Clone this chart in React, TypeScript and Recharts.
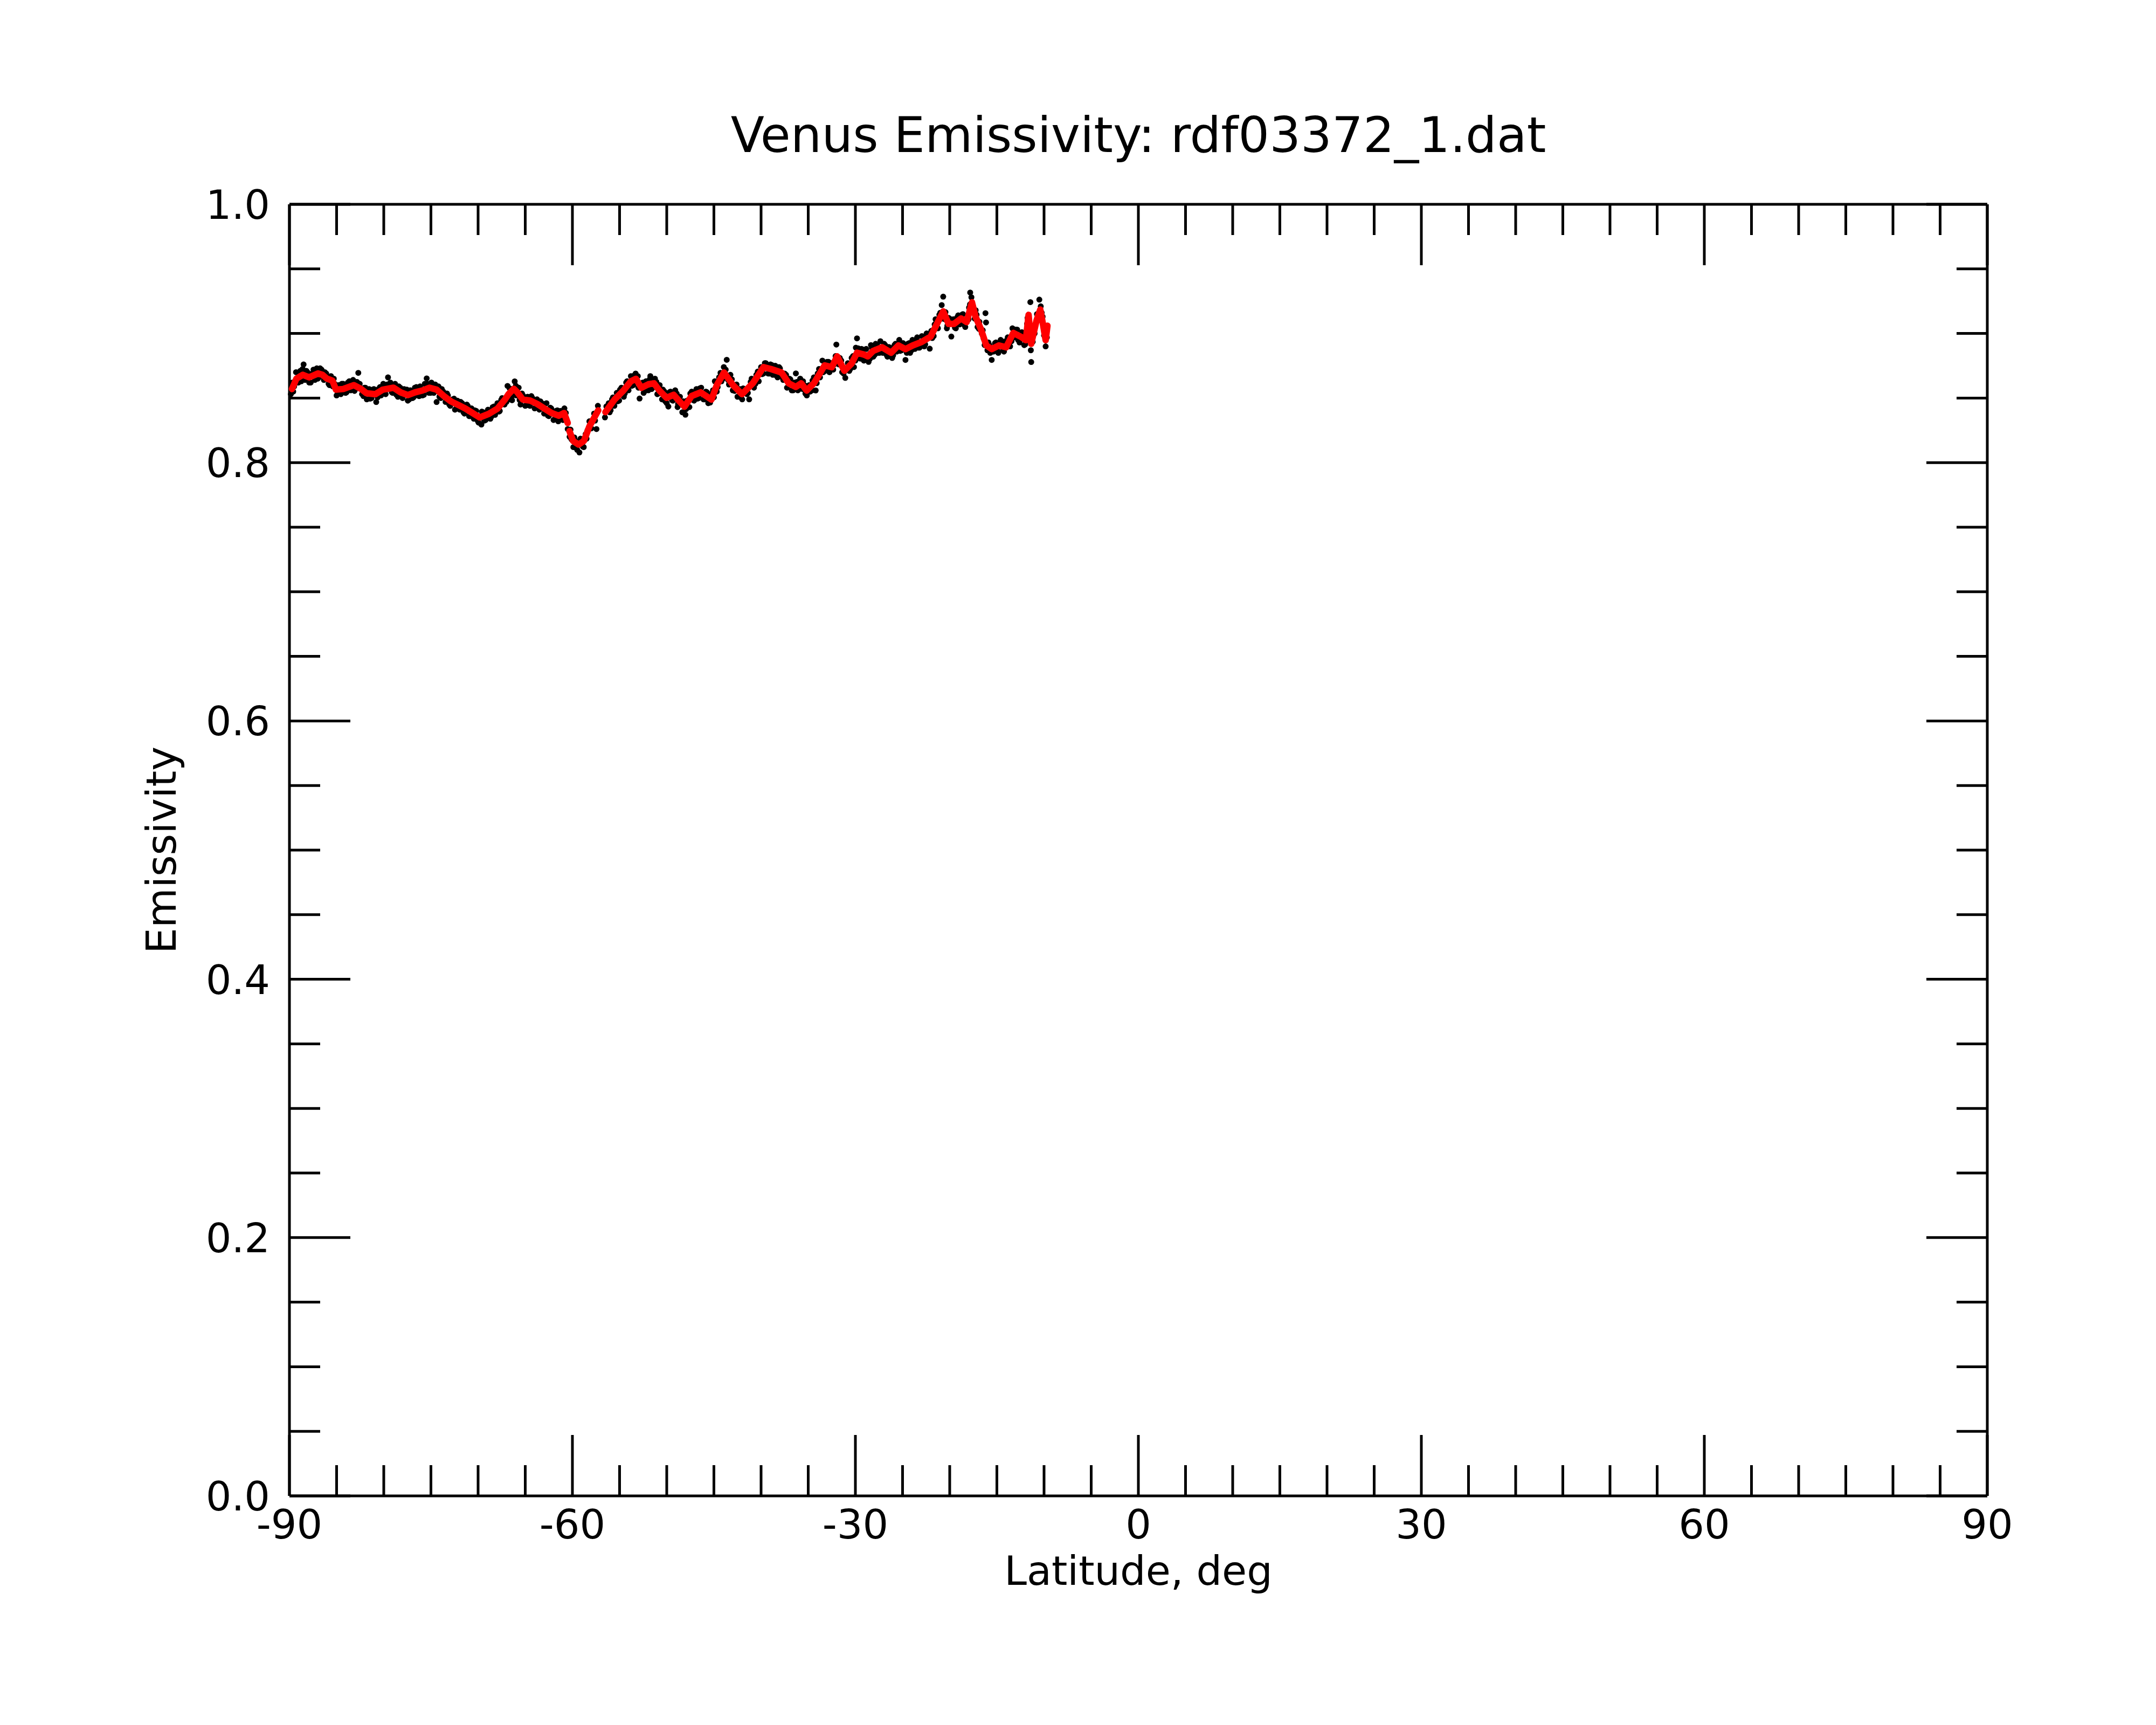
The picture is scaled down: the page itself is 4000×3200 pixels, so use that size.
import React from "react";
import { ScatterChart, Scatter, XAxis, YAxis } from "recharts";

// axis ticks (majors every 30 deg / 0.2, minors every 5 deg / 0.05)
const latTicks = [
  -90, -85, -80, -75, -70, -65, -60, -55, -50, -45, -40, -35, -30, -25, -20,
  -15, -10, -5, 0, 5, 10, 15, 20, 25, 30, 35, 40, 45, 50, 55, 60, 65, 70, 75,
  80, 85, 90,
];
const emTicks = [
  0, 0.05, 0.1, 0.15, 0.2, 0.25, 0.3, 0.35, 0.4, 0.45, 0.5, 0.55, 0.6, 0.65,
  0.7, 0.75, 0.8, 0.85, 0.9, 0.95, 1.0,
];

// raw emissivity samples [latitude, emissivity]
const rawPoints: [number, number][] = [
  [-89.85, 0.853], [-89.7, 0.862], [-89.5, 0.859], [-89.3, 0.87], [-89.05, 0.862],
  [-88.85, 0.871], [-88.6, 0.8725], [-88.5, 0.876], [-88.35, 0.864], [-88.1, 0.87],
  [-87.9, 0.862], [-87.6, 0.869], [-87.3, 0.864], [-87.1, 0.873], [-86.9, 0.866],
  [-86.6, 0.872], [-86.35, 0.864], [-86.1, 0.869], [-85.85, 0.861], [-85.6, 0.867],
  [-85.4, 0.859], [-85.2, 0.861], [-85.0, 0.852], [-84.8, 0.86], [-84.55, 0.853],
  [-84.3, 0.861], [-84.05, 0.854], [-83.8, 0.862], [-83.5, 0.856], [-83.25, 0.864],
  [-83.0, 0.857], [-82.7, 0.8695], [-82.55, 0.861], [-82.3, 0.853], [-82.05, 0.858],
  [-81.8, 0.849], [-81.55, 0.857], [-81.3, 0.85], [-81.05, 0.857], [-80.8, 0.8469],
  [-80.55, 0.857], [-80.3, 0.852], [-80.05, 0.861], [-79.8, 0.853], [-79.55, 0.866],
  [-79.3, 0.862], [-79.05, 0.854], [-78.8, 0.861], [-78.5, 0.851], [-78.25, 0.858],
  [-78.0, 0.85], [-77.7, 0.856], [-77.45, 0.848], [-77.2, 0.856], [-76.95, 0.85],
  [-76.7, 0.858], [-76.4, 0.852], [-76.15, 0.859], [-75.9, 0.852], [-75.65, 0.861],
  [-75.45, 0.8652], [-75.2, 0.854], [-74.95, 0.862], [-74.7, 0.854], [-74.4, 0.8469],
  [-74.2, 0.859], [-73.95, 0.85], [-73.7, 0.855], [-73.45, 0.847], [-73.2, 0.852],
  [-72.95, 0.844], [-72.7, 0.849], [-72.45, 0.841], [-72.2, 0.848], [-71.95, 0.841],
  [-71.7, 0.846], [-71.45, 0.838], [-71.2, 0.845], [-70.95, 0.836], [-70.7, 0.842],
  [-70.45, 0.834], [-70.2, 0.84], [-69.95, 0.831], [-69.65, 0.8295], [-69.45, 0.839],
  [-69.2, 0.833], [-68.95, 0.841], [-68.7, 0.834], [-68.45, 0.843], [-68.2, 0.837],
  [-67.95, 0.846], [-67.7, 0.84], [-67.45, 0.85], [-67.2, 0.845], [-66.88, 0.8594],
  [-66.6, 0.849], [-66.4, 0.8483], [-66.12, 0.8629], [-65.95, 0.852], [-65.7, 0.858],
  [-65.5, 0.845], [-65.25, 0.852], [-65.0, 0.844], [-64.75, 0.851], [-64.5, 0.844],
  [-64.25, 0.85], [-64.0, 0.842], [-63.75, 0.849], [-63.5, 0.841], [-63.25, 0.846],
  [-63.0, 0.838], [-62.75, 0.846], [-62.5, 0.836], [-62.25, 0.842], [-62.0, 0.833],
  [-61.75, 0.84], [-61.5, 0.832], [-61.25, 0.84], [-61.0, 0.833], [-60.85, 0.842],
  [-60.65, 0.834], [-60.5, 0.826],
  [-60.3, 0.82], [-60.1, 0.818], [-59.9, 0.812], [-59.7, 0.817], [-59.5, 0.81],
  [-59.26, 0.8079], [-59.0, 0.818], [-58.8, 0.812], [-58.6, 0.822], [-58.4, 0.825],
  [-58.2, 0.832], [-57.95, 0.831], [-57.7, 0.838], [-57.45, 0.826], [-57.3, 0.844],
  [-56.55, 0.835], [-56.3, 0.844], [-56.05, 0.839], [-55.8, 0.849], [-55.55, 0.844],
  [-55.3, 0.854], [-55.05, 0.848], [-54.8, 0.858], [-54.55, 0.851], [-54.3, 0.862],
  [-54.05, 0.856], [-53.8, 0.867], [-53.55, 0.86], [-53.3, 0.869], [-53.07, 0.867],
  [-52.88, 0.8496], [-52.7, 0.861], [-52.45, 0.854], [-52.2, 0.863], [-51.95, 0.856],
  [-51.74, 0.867], [-51.5, 0.858], [-51.25, 0.865], [-51.0, 0.853], [-50.75, 0.86],
  [-50.5, 0.849], [-50.25, 0.855], [-50.0, 0.846], [-49.83, 0.8434], [-49.6, 0.855],
  [-49.35, 0.848], [-49.1, 0.856], [-48.85, 0.843], [-48.6, 0.851], [-48.35, 0.839],
  [-48.02, 0.8371], [-47.85, 0.848], [-47.6, 0.843], [-47.35, 0.855], [-47.1, 0.848],
  [-46.85, 0.857], [-46.6, 0.85], [-46.35, 0.858], [-46.1, 0.849], [-45.85, 0.855],
  [-45.6, 0.846], [-45.35, 0.853], [-45.1, 0.856], [-44.9, 0.863], [-44.7, 0.855],
  [-44.45, 0.866], [-44.2, 0.863], [-43.95, 0.874], [-43.64, 0.8796], [-43.5, 0.864],
  [-43.25, 0.868], [-43.0, 0.856], [-42.75, 0.86], [-42.5, 0.851], [-42.25, 0.857],
  [-42.0, 0.849], [-41.75, 0.854], [-41.5, 0.853], [-41.26, 0.849], [-41.0, 0.865],
  [-40.75, 0.858], [-40.5, 0.868], [-40.25, 0.863], [-40.0, 0.874], [-39.75, 0.869],
  [-39.5, 0.877], [-39.25, 0.869], [-39.0, 0.876], [-38.75, 0.868], [-38.5, 0.875],
  [-38.25, 0.866], [-38.0, 0.873], [-37.75, 0.866], [-37.5, 0.869], [-37.25, 0.858],
  [-37.0, 0.865], [-36.75, 0.856], [-36.5, 0.862], [-36.31, 0.8691], [-36.1, 0.856],
  [-35.85, 0.865], [-35.6, 0.857], [-35.4, 0.86], [-35.15, 0.852], [-34.9, 0.86],
  [-34.6, 0.856], [-34.4, 0.866], [-34.21, 0.8559], [-34.0, 0.869], [-33.75, 0.866],
  [-33.5, 0.879], [-33.25, 0.871], [-33.0, 0.878], [-32.75, 0.87], [-32.5, 0.877],
  [-32.25, 0.876], [-32.02, 0.8914], [-31.9, 0.878], [-31.65, 0.881], [-31.4, 0.87],
  [-31.07, 0.8656], [-30.9, 0.873], [-30.65, 0.871], [-30.4, 0.881], [-30.15, 0.874],
  [-29.95, 0.889], [-29.83, 0.8962], [-29.6, 0.881], [-29.35, 0.888], [-29.1, 0.879],
  [-28.85, 0.888], [-28.6, 0.878], [-28.35, 0.891], [-28.1, 0.882], [-27.85, 0.892],
  [-27.6, 0.885], [-27.35, 0.894], [-27.1, 0.885], [-26.85, 0.891], [-26.6, 0.882],
  [-26.35, 0.889], [-26.1, 0.881], [-25.85, 0.891], [-25.6, 0.886], [-25.35, 0.895],
  [-25.1, 0.887], [-24.85, 0.891], [-24.69, 0.8795], [-24.45, 0.892], [-24.2, 0.885],
  [-23.95, 0.895], [-23.7, 0.888], [-23.45, 0.897], [-23.2, 0.889], [-22.95, 0.898],
  [-22.7, 0.89], [-22.45, 0.9], [-22.12, 0.8882], [-21.95, 0.902], [-21.7, 0.898],
  [-21.5, 0.911], [-21.25, 0.904], [-21.0, 0.916], [-20.85, 0.922], [-20.69, 0.9285],
  [-20.5, 0.911], [-20.3, 0.904], [-20.1, 0.912], [-19.83, 0.8976], [-19.6, 0.911],
  [-19.35, 0.904], [-19.1, 0.914], [-18.85, 0.908], [-18.6, 0.915], [-18.35, 0.905],
  [-18.1, 0.912], [-17.95, 0.92], [-17.83, 0.9317], [-17.7, 0.928], [-17.45, 0.918],
  [-17.25, 0.918], [-17.05, 0.905], [-16.85, 0.909], [-16.6, 0.9], [-16.4, 0.896],
  [-16.21, 0.9157], [-16.15, 0.9085], [-16.0, 0.887], [-15.8, 0.891], [-15.55, 0.8795],
  [-15.35, 0.886], [-15.1, 0.893], [-14.85, 0.885], [-14.6, 0.895], [-14.35, 0.887],
  [-14.1, 0.894], [-13.85, 0.897], [-13.6, 0.89], [-13.35, 0.904], [-13.1, 0.897],
  [-12.85, 0.903], [-12.6, 0.893], [-12.35, 0.901], [-12.1, 0.891], [-11.9, 0.9],
  [-11.75, 0.912], [-11.45, 0.9243], [-11.4, 0.887], [-11.36, 0.8779], [-11.15, 0.903],
  [-10.95, 0.907], [-10.75, 0.915], [-10.5, 0.9262], [-10.35, 0.921], [-10.15, 0.913],
  [-9.95, 0.903], [-9.83, 0.89], [-9.7, 0.897],
];

// more raw samples, between the ones above
const rawPointsB: [number, number][] = [
  [-89.6, 0.855], [-89.15, 0.862], [-88.75, 0.863], [-88.2, 0.871], [-87.75, 0.862],
  [-87.45, 0.872], [-87.0, 0.865], [-86.75, 0.873], [-86.25, 0.87], [-85.75, 0.86],
  [-85.3, 0.865], [-84.9, 0.853], [-84.45, 0.861], [-83.95, 0.8545], [-83.65, 0.863],
  [-83.1, 0.8555], [-82.85, 0.8625], [-82.15, 0.8515], [-81.95, 0.858], [-81.45, 0.8495],
  [-81.15, 0.8565], [-80.65, 0.8505], [-80.4, 0.8585], [-79.95, 0.8535], [-79.65, 0.8605],
  [-79.15, 0.8545], [-78.65, 0.8525], [-78.4, 0.859], [-77.85, 0.857], [-77.55, 0.8565],
  [-77.3, 0.849], [-76.85, 0.8505], [-76.55, 0.8585], [-76.25, 0.8515], [-75.75, 0.8525],
  [-75.35, 0.861], [-75.05, 0.854], [-74.55, 0.8605], [-74.1, 0.851], [-73.85, 0.857],
  [-73.3, 0.8535], [-73.05, 0.845], [-72.55, 0.8495], [-72.3, 0.842], [-71.85, 0.847],
  [-71.55, 0.839], [-71.1, 0.844], [-70.8, 0.836], [-70.35, 0.8405], [-70.05, 0.8325],
  [-69.6, 0.8395], [-69.35, 0.8325], [-68.6, 0.8355], [-68.3, 0.8435], [-67.8, 0.8395],
  [-67.55, 0.8485], [-67.0, 0.847], [-66.65, 0.8575], [-66.35, 0.852], [-66.0, 0.8595],
  [-65.6, 0.8485], [-65.35, 0.8535], [-64.85, 0.8445], [-64.35, 0.8515], [-63.9, 0.8425],
  [-63.4, 0.8475], [-63.1, 0.8455], [-62.6, 0.8365], [-62.35, 0.8425], [-61.85, 0.834],
  [-61.6, 0.8405], [-61.1, 0.8345], [-60.7, 0.8385],
  [-60.2, 0.8255], [-59.8, 0.8195], [-59.6, 0.8115], [-59.15, 0.8185], [-58.9, 0.8125],
  [-58.5, 0.8185], [-58.0, 0.8265], [-57.6, 0.8325],
  [-56.4, 0.8435], [-56.15, 0.846], [-55.95, 0.8405], [-55.7, 0.8505], [-55.2, 0.8475],
  [-54.95, 0.8565], [-54.45, 0.8535], [-54.2, 0.863], [-53.7, 0.8595], [-53.45, 0.8675],
  [-53.0, 0.858], [-52.55, 0.862], [-52.3, 0.8555], [-51.8, 0.8645], [-51.6, 0.857],
  [-51.1, 0.8625], [-50.9, 0.8535], [-50.4, 0.8565], [-50.15, 0.8475], [-49.7, 0.8545],
  [-49.45, 0.8485], [-48.95, 0.8535], [-48.8, 0.8455], [-48.25, 0.8475], [-47.95, 0.8415],
  [-47.5, 0.8535], [-47.2, 0.8485], [-46.75, 0.8495], [-46.5, 0.8575], [-46.0, 0.849],
  [-45.75, 0.8545], [-45.4, 0.8465], [-45.0, 0.8505], [-44.6, 0.8585], [-44.3, 0.8695],
  [-44.05, 0.865], [-43.75, 0.872], [-43.4, 0.8605], [-43.1, 0.8645], [-42.8, 0.8555],
  [-42.6, 0.8605], [-42.15, 0.8505], [-41.9, 0.8575], [-41.4, 0.854], [-41.1, 0.8625],
  [-40.6, 0.861], [-40.35, 0.8705], [-39.9, 0.8685], [-39.6, 0.877], [-39.1, 0.869],
  [-38.85, 0.8755], [-38.4, 0.8675], [-38.1, 0.874], [-37.65, 0.864], [-37.35, 0.868],
  [-36.9, 0.8645], [-36.6, 0.856], [-36.2, 0.8625], [-35.95, 0.857], [-35.55, 0.863],
  [-35.3, 0.8535], [-34.8, 0.855], [-34.55, 0.8635], [-34.1, 0.8615], [-33.85, 0.8725],
  [-33.4, 0.87], [-33.1, 0.8715], [-32.85, 0.878], [-32.35, 0.872], [-32.1, 0.8825],
  [-31.75, 0.876], [-31.5, 0.879], [-31.25, 0.869], [-30.8, 0.877], [-30.55, 0.8725],
  [-30.25, 0.8825], [-30.0, 0.879], [-29.7, 0.8885], [-29.45, 0.8805], [-29.2, 0.8875],
  [-28.9, 0.8795], [-28.45, 0.8805], [-28.25, 0.889], [-27.95, 0.8835], [-27.7, 0.891],
  [-27.45, 0.885], [-26.95, 0.892], [-26.7, 0.8835], [-26.45, 0.8895], [-26.0, 0.883],
  [-25.75, 0.892], [-25.25, 0.8865], [-24.95, 0.8925], [-24.55, 0.885], [-24.3, 0.8925],
  [-24.05, 0.887], [-23.6, 0.895], [-23.35, 0.889], [-22.85, 0.8975], [-22.6, 0.8915],
  [-22.3, 0.8995], [-21.85, 0.8965], [-21.6, 0.907], [-21.3, 0.9045], [-21.1, 0.9145],
  [-20.85, 0.9115], [-20.45, 0.9165], [-20.25, 0.906], [-19.9, 0.911], [-19.45, 0.9045],
  [-19.2, 0.9125], [-18.95, 0.907], [-18.7, 0.9145], [-18.45, 0.9065], [-18.0, 0.911],
  [-17.85, 0.9225], [-17.55, 0.9175], [-17.35, 0.9115], [-17.15, 0.9145], [-16.9, 0.9035],
  [-16.5, 0.9025], [-16.3, 0.891], [-15.9, 0.893], [-15.7, 0.885], [-15.2, 0.8925],
  [-14.95, 0.8865], [-14.5, 0.8935], [-14.25, 0.886], [-13.75, 0.8965], [-13.45, 0.894],
  [-13.0, 0.903], [-12.75, 0.895], [-12.25, 0.8995], [-12.0, 0.8915], [-11.8, 0.9075],
  [-11.55, 0.903], [-11.2, 0.8935], [-11.0, 0.9], [-10.6, 0.9105], [-10.25, 0.916],
  [-10.0, 0.8985], [-9.75, 0.9035],
];

// smoothed curve, three pieces (gaps in the data near -60.4 and -57)
const smoothA: [number, number][] = [
  [-89.73, 0.857], [-89.26, 0.865], [-88.59, 0.868], [-87.92, 0.866], [-86.97, 0.869],
  [-86.5, 0.868], [-86.02, 0.865], [-85.45, 0.8635], [-85.07, 0.8565], [-84.3, 0.857],
  [-83.16, 0.86], [-82.4, 0.857], [-81.83, 0.8537], [-80.88, 0.853], [-80.11, 0.8565],
  [-78.97, 0.858], [-78.21, 0.8544], [-77.45, 0.8523], [-76.69, 0.8544], [-75.92, 0.8558],
  [-75.16, 0.858], [-74.4, 0.8565], [-73.64, 0.8516], [-72.88, 0.8474], [-72.11, 0.8447],
  [-71.35, 0.8419], [-70.59, 0.8384], [-69.83, 0.835], [-68.88, 0.8377], [-67.93, 0.8419],
  [-67.16, 0.8488], [-66.78, 0.853], [-66.21, 0.8572], [-65.83, 0.8544], [-65.26, 0.8488],
  [-64.5, 0.8481], [-63.73, 0.8454], [-62.97, 0.8419], [-62.21, 0.8384], [-61.45, 0.8363],
  [-60.88, 0.8384], [-60.5, 0.8307],
];
const smoothB: [number, number][] = [
  [-60.31, 0.8244], [-59.93, 0.8168], [-59.35, 0.814], [-58.78, 0.8168], [-58.21, 0.8279],
  [-57.26, 0.8405],
];
const smoothC: [number, number][] = [
  [-56.5, 0.8391], [-55.54, 0.8488], [-54.59, 0.8558], [-53.83, 0.8628], [-53.26, 0.8649],
  [-52.69, 0.8579], [-51.93, 0.8607], [-51.35, 0.8614], [-50.78, 0.8558], [-50.02, 0.8502],
  [-49.26, 0.8525], [-48.69, 0.8478], [-48.12, 0.8433], [-47.36, 0.8516], [-46.4, 0.8544],
  [-45.26, 0.8488], [-44.69, 0.86], [-43.93, 0.8698], [-42.97, 0.86], [-42.02, 0.853],
  [-40.88, 0.8614], [-39.74, 0.8739], [-38.97, 0.8725], [-37.83, 0.8698], [-37.07, 0.8614],
  [-36.31, 0.8586], [-35.74, 0.8614], [-35.17, 0.8558], [-34.4, 0.8614], [-33.26, 0.8753],
  [-32.5, 0.8739], [-31.93, 0.8823], [-31.17, 0.8711], [-30.4, 0.8767], [-29.83, 0.8851],
  [-29.07, 0.8836], [-28.69, 0.8823], [-28.12, 0.8865], [-27.17, 0.8893], [-26.21, 0.8851],
  [-25.45, 0.8907], [-24.69, 0.8879], [-23.93, 0.8907], [-22.98, 0.8934], [-22.02, 0.8976],
  [-21.45, 0.906], [-20.69, 0.9171], [-20.12, 0.9074], [-19.55, 0.9074], [-18.79, 0.9116],
  [-18.21, 0.9088], [-17.64, 0.9241], [-17.26, 0.913], [-16.69, 0.9032], [-16.12, 0.8907],
  [-15.55, 0.8879], [-14.79, 0.8907], [-14.02, 0.8893], [-13.26, 0.9004], [-12.5, 0.8976],
  [-11.93, 0.8948], [-11.64, 0.9144], [-11.36, 0.892], [-10.79, 0.9102], [-10.4, 0.9185],
  [-10.12, 0.9074], [-9.83, 0.8948], [-9.64, 0.906],
];

const toRows = (pts: [number, number][]) => pts.map(([lat, em]) => ({ lat, em }));

const FONT = "DejaVu Sans";
const MAJOR = 113;
const MINOR = 57;
const TICK_W = 5;

const isMajorLat = (v: number) => Math.round(v) % 30 === 0;
const isMajorEm = (v: number) => Math.round(v * 100) % 20 === 0;

function BottomTick(props: any) {
  const { x, y, payload } = props;
  const major = isMajorLat(payload.value);
  return (
    <g>
      <line x1={x} x2={x} y1={y} y2={y - (major ? MAJOR : MINOR)} stroke="#000" strokeWidth={TICK_W} />
      {major && (
        <text x={x} y={y + 79} textAnchor="middle" fontFamily={FONT} fontSize={75} fill="#000">
          {payload.value}
        </text>
      )}
    </g>
  );
}

function TopTick(props: any) {
  const { x, y, payload } = props;
  const major = isMajorLat(payload.value);
  return <line x1={x} x2={x} y1={y} y2={y + (major ? MAJOR : MINOR)} stroke="#000" strokeWidth={TICK_W} />;
}

function LeftTick(props: any) {
  const { x, y, payload } = props;
  const major = isMajorEm(payload.value);
  return (
    <g>
      <line x1={x} x2={x + (major ? MAJOR : MINOR)} y1={y} y2={y} stroke="#000" strokeWidth={TICK_W} />
      {major && (
        <text x={x - 36} y={y + 27} textAnchor="end" fontFamily={FONT} fontSize={75} fill="#000">
          {payload.value.toFixed(1)}
        </text>
      )}
    </g>
  );
}

function RightTick(props: any) {
  const { x, y, payload } = props;
  const major = isMajorEm(payload.value);
  return <line x1={x} x2={x - (major ? MAJOR : MINOR)} y1={y} y2={y} stroke="#000" strokeWidth={TICK_W} />;
}

const noShape = () => <g />;
const dotShape = (p: any) => <circle cx={p.cx} cy={p.cy} r={5.5} fill="#000" />;

export default function App() {
  const axisLine = { stroke: "#000", strokeWidth: 5 };
  const rows = toRows(rawPoints.concat(rawPointsB));
  return (
    <div style={{ position: "absolute", left: 0, top: 0, width: 4000, height: 3200, background: "#fff" }}>
      <ScatterChart width={4000} height={3200} margin={{ top: 378, right: 312, bottom: 424, left: 536 }}>
        <XAxis
          xAxisId="b"
          orientation="bottom"
          type="number"
          dataKey="lat"
          domain={[-90, 90]}
          ticks={latTicks}
          interval={0}
          height={1}
          tickSize={0}
          tickMargin={0}
          tickLine={false}
          axisLine={axisLine}
          tick={<BottomTick />}
        />
        <XAxis
          xAxisId="t"
          orientation="top"
          type="number"
          dataKey="lat"
          domain={[-90, 90]}
          ticks={latTicks}
          interval={0}
          height={1}
          tickSize={0}
          tickMargin={0}
          tickLine={false}
          axisLine={axisLine}
          tick={<TopTick />}
        />
        <YAxis
          yAxisId="l"
          orientation="left"
          type="number"
          dataKey="em"
          domain={[0, 1]}
          ticks={emTicks}
          interval={0}
          width={1}
          tickSize={0}
          tickMargin={0}
          tickLine={false}
          axisLine={axisLine}
          tick={<LeftTick />}
        />
        <YAxis
          yAxisId="r"
          orientation="right"
          type="number"
          dataKey="em"
          domain={[0, 1]}
          ticks={emTicks}
          interval={0}
          width={1}
          tickSize={0}
          tickMargin={0}
          tickLine={false}
          axisLine={axisLine}
          tick={<RightTick />}
        />
        {/* invisible series so the top and right axes get their ticks */}
        <Scatter xAxisId="t" yAxisId="r" data={rows} shape={noShape} isAnimationActive={false} />
        <Scatter xAxisId="b" yAxisId="l" data={rows} fill="#000" shape={dotShape} isAnimationActive={false} />
        {[smoothA, smoothB, smoothC].map((seg, i) => (
          <Scatter
            key={i}
            xAxisId="b"
            yAxisId="l"
            data={toRows(seg)}
            fill="#ff0000"
            line={{ stroke: "#ff0000", strokeWidth: 12, strokeLinejoin: "round", strokeLinecap: "round" }}
            shape={noShape}
            isAnimationActive={false}
          />
        ))}
      </ScatterChart>
      <svg width={4000} height={3200} style={{ position: "absolute", left: 0, top: 0, pointerEvents: "none" }}>
        <text x={2112} y={282} textAnchor="middle" fontFamily={FONT} fontSize={91} fill="#000">
          Venus Emissivity: rdf03372_1.dat
        </text>
        <text x={2112} y={2940} textAnchor="middle" fontFamily={FONT} fontSize={75} fill="#000">
          Latitude, deg
        </text>
        <text
          transform="translate(326,1577) rotate(-90)"
          textAnchor="middle"
          fontFamily={FONT}
          fontSize={76}
          fill="#000"
        >
          Emissivity
        </text>
      </svg>
    </div>
  );
}
